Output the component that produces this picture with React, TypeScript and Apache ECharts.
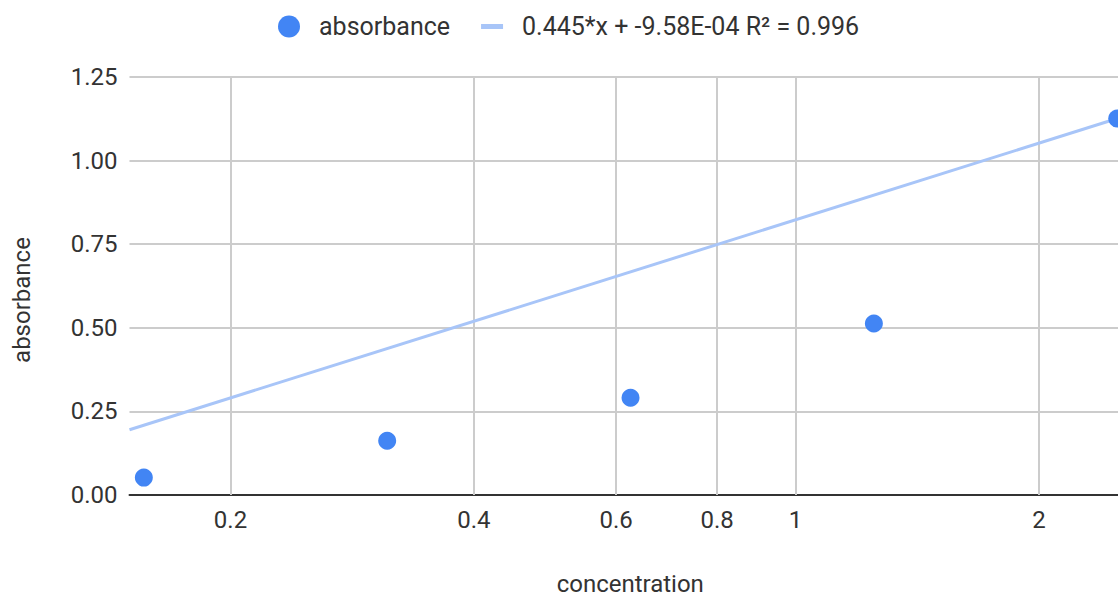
import React, { useEffect, useRef } from "react";
import * as echarts from "echarts";

const concentration = [0.15625, 0.3125, 0.625, 1.25, 2.5];
const absorbance = [0.052, 0.162, 0.291, 0.513, 1.126];
const trendX = [0.15, 2.5];
const trendY = [0.195, 1.126];
const xTickValues = [0.2, 0.4, 0.6, 0.8, 1, 2];
const seriesName = "absorbance";
const trendLabel = "0.445*x + -9.58E-04 R² = 0.996";
const xTitle = "concentration";
const yTitle = "absorbance";

export default function App() {
  const ref = useRef<HTMLDivElement>(null);
  useEffect(() => {
    const chart = echarts.init(ref.current!, null, { renderer: "svg" });
    const font = "Roboto, Arial, sans-serif";
    const textColor = "#333333";
    const pointColor = "#4285F4";
    const trendColor = "#A8C5F8";
    chart.setOption({
      animation: false,
      textStyle: { fontFamily: font },
      legend: {
        top: 9,
        left: 273,
        itemWidth: 36,
        itemHeight: 22,
        itemGap: 31,
        itemStyle: { borderWidth: 0 },
        textStyle: { fontSize: 25, color: textColor, fontFamily: font },
        data: [
          {
            name: seriesName,
            icon: "path://M0,0 M36,22 M0,11 A11,11 0 1,0 22,11 A11,11 0 1,0 0,11 Z",
          },
          {
            name: trendLabel,
            icon: "path://M0,0 M36,22 M0,8.5 L22,8.5 L22,13.5 L0,13.5 Z",
          },
        ],
      },
      grid: { left: 129.5, right: 0, top: 77, height: 424 },
      xAxis: {
        type: "log",
        logBase: 10,
        min: 0.15,
        max: 2.6,
        axisLine: { show: true, onZero: false, lineStyle: { color: "#333333", width: 2 } },
        axisTick: { show: false },
        axisLabel: { show: false },
        splitLine: { show: false },
        name: xTitle,
        nameLocation: "middle",
        nameGap: 77,
        nameTextStyle: { fontSize: 24, color: textColor, fontFamily: font },
      },
      yAxis: {
        type: "value",
        min: 0,
        max: 1.25,
        interval: 0.25,
        axisLine: { show: false },
        axisTick: { show: false },
        splitLine: { lineStyle: { color: "#cccccc", width: 2 } },
        axisLabel: {
          formatter: (v: number) => v.toFixed(2),
          fontSize: 24,
          color: textColor,
          margin: 12,
          fontFamily: font,
        },
        name: yTitle,
        nameLocation: "middle",
        nameGap: 96,
        nameTextStyle: { fontSize: 24, color: textColor, fontFamily: font, padding: [0, 28, 0, 0] },
      },
      series: [
        {
          name: seriesName,
          type: "scatter",
          z: 4,
          symbolSize: 18,
          itemStyle: { color: pointColor, opacity: 1 },
          data: concentration.map((x, i) => [x, absorbance[i]]),
          markLine: {
            silent: true,
            z: 1,
            symbol: ["none", "none"],
            lineStyle: { color: "#cccccc", width: 2, type: "solid" },
            emphasis: { disabled: true },
            label: {
              show: true,
              position: "start",
              distance: 13,
              fontSize: 24,
              color: textColor,
              fontFamily: font,
              formatter: (p: any) => String(p.value),
            },
            data: xTickValues.map((v) => ({ xAxis: v })),
          },
        },
        {
          name: trendLabel,
          type: "line",
          z: 3,
          showSymbol: false,
          symbol: "none",
          lineStyle: { color: trendColor, width: 3 },
          itemStyle: { color: trendColor },
          data: trendX.map((x, i) => [x, trendY[i]]),
        },
      ],
    });
    return () => chart.dispose();
  }, []);
  return (
    <div
      style={{
        position: "fixed",
        left: 0,
        top: 0,
        width: 1118,
        height: 601,
        overflow: "hidden",
        background: "#fff",
      }}
    >
      <div ref={ref} style={{ width: 1131, height: 601 }} />
    </div>
  );
}
